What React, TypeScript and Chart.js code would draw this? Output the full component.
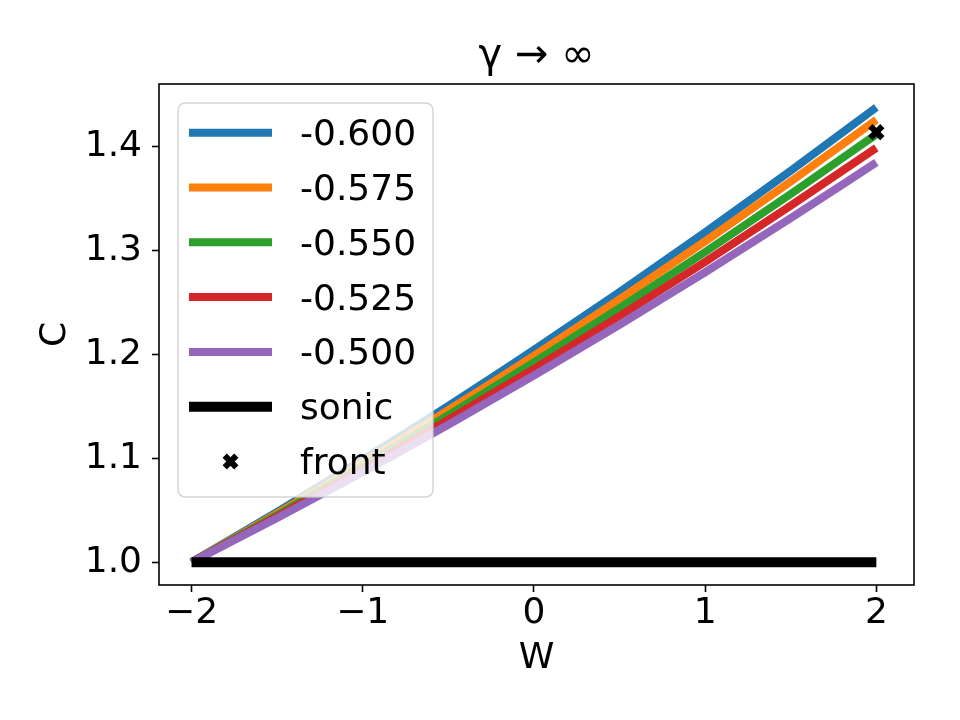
import React, { useEffect, useRef } from "react";
import { Chart, registerables } from "chart.js";

Chart.register(...registerables);

// ---- data ----
const W = [-2, -1.5, -1, -0.5, 0, 0.5, 1, 1.5, 2];
const C_0600 = [1.0, 1.0484, 1.0986, 1.1505, 1.2044, 1.2601, 1.3176, 1.3769, 1.438];
const C_0575 = [1.0, 1.047, 1.0959, 1.1464, 1.1988, 1.253, 1.3089, 1.3666, 1.426];
const C_0550 = [1.0, 1.0455, 1.0927, 1.1416, 1.1923, 1.2446, 1.2987, 1.3546, 1.412];
const C_0525 = [1.0, 1.044, 1.0898, 1.1371, 1.1862, 1.2369, 1.2893, 1.3434, 1.399];
const C_0500 = [1.0, 1.0425, 1.0866, 1.1323, 1.1797, 1.2286, 1.2792, 1.3313, 1.385];
const seriesLabels = ["-0.600", "-0.575", "-0.550", "-0.525", "-0.500"];
const seriesValues = [C_0600, C_0575, C_0550, C_0525, C_0500];
const seriesColors = ["#1f77b4", "#ff7f0e", "#2ca02c", "#d62728", "#9467bd"];

const sonicW = [-2, 2];
const sonicC = [1.0, 1.0];
const frontW = [2];
const frontC = [1.4142];

const xTicks = [-2, -1, 0, 1, 2];
const yTicks = [1.0, 1.1, 1.2, 1.3, 1.4];
const titleText = "γ → ∞";
const xLabel = "W";
const yLabel = "C";

const FONT = "DejaVu Sans";

const framePlugin = {
  id: "frameAndLegend",
  afterDatasetsDraw(chart: any) {
    const { ctx, chartArea } = chart;
    ctx.save();
    // axes frame
    ctx.strokeStyle = "#000";
    ctx.lineWidth = 1.6;
    ctx.strokeRect(chartArea.left, chartArea.top, chartArea.right - chartArea.left, chartArea.bottom - chartArea.top);

    // legend
    const bx = 178, by = 103, bw = 255, bh = 394, r = 8;
    ctx.beginPath();
    ctx.moveTo(bx + r, by);
    ctx.lineTo(bx + bw - r, by);
    ctx.quadraticCurveTo(bx + bw, by, bx + bw, by + r);
    ctx.lineTo(bx + bw, by + bh - r);
    ctx.quadraticCurveTo(bx + bw, by + bh, bx + bw - r, by + bh);
    ctx.lineTo(bx + r, by + bh);
    ctx.quadraticCurveTo(bx, by + bh, bx, by + bh - r);
    ctx.lineTo(bx, by + r);
    ctx.quadraticCurveTo(bx, by, bx + r, by);
    ctx.closePath();
    ctx.fillStyle = "rgba(255,255,255,0.8)";
    ctx.fill();
    ctx.strokeStyle = "rgba(204,204,204,0.8)";
    ctx.lineWidth = 1.5;
    ctx.stroke();

    const ds = chart.data.datasets;
    ctx.font = `36px "${FONT}"`;
    ctx.textAlign = "left";
    ctx.textBaseline = "alphabetic";
    for (let i = 0; i < ds.length; i++) {
      const cy = 132.7 + i * 54.8;
      const d = ds[i];
      if (d.showLine === false) {
        const cx = 230.5;
        const o = 5.8;
        ctx.strokeStyle = "#000";
        ctx.lineWidth = 6;
        ctx.lineCap = "butt";
        ctx.beginPath();
        ctx.moveTo(cx - o, cy - o);
        ctx.lineTo(cx + o, cy + o);
        ctx.moveTo(cx - o, cy + o);
        ctx.lineTo(cx + o, cy - o);
        ctx.stroke();
      } else {
        ctx.strokeStyle = d.borderColor;
        ctx.lineWidth = d.borderWidth;
        ctx.lineCap = "butt";
        ctx.beginPath();
        ctx.moveTo(189, cy);
        ctx.lineTo(272, cy);
        ctx.stroke();
      }
      ctx.fillStyle = "#000";
      ctx.fillText(d.label, 300, cy + 12.5);
    }
    ctx.restore();
  },
};

export default function App() {
  const ref = useRef<HTMLCanvasElement | null>(null);

  useEffect(() => {
    if (!ref.current) return;
    const datasets: any[] = seriesLabels.map((label, i) => ({
      label,
      data: W.map((w, k) => ({ x: w, y: seriesValues[i][k] })),
      borderColor: seriesColors[i],
      backgroundColor: seriesColors[i],
      borderWidth: 8,
      pointRadius: 0,
      cubicInterpolationMode: "monotone",
      fill: false,
      order: 7 - i,
    }));
    datasets.push({
      label: "sonic",
      data: sonicW.map((w, k) => ({ x: w, y: sonicC[k] })),
      borderColor: "#000",
      backgroundColor: "#000",
      borderWidth: 10,
      pointRadius: 0,
      fill: false,
      order: 2,
    });
    datasets.push({
      label: "front",
      data: frontW.map((w, k) => ({ x: w, y: frontC[k] })),
      showLine: false,
      borderColor: "#000",
      backgroundColor: "#000",
      pointStyle: "crossRot",
      pointRadius: 8.5,
      pointBorderWidth: 6,
      borderWidth: 6,
      order: 1,
    });

    const tickFont = { family: FONT, size: 36 };
    const chart = new Chart(ref.current, {
      type: "line",
      data: { datasets },
      plugins: [framePlugin],
      options: {
        animation: false,
        responsive: false,
        layout: { padding: { left: 0, right: 46, top: 0, bottom: 35 } },
        plugins: {
          legend: { display: false },
          tooltip: { enabled: false },
          title: {
            display: true,
            text: titleText,
            fullSize: false,
            color: "#000",
            font: { family: FONT, size: 40, weight: "normal" },
            padding: { top: 33, bottom: 3 },
          },
        },
        scales: {
          x: {
            type: "linear",
            min: -2.19,
            max: 2.22,
            afterBuildTicks: (s: any) => {
              s.ticks = xTicks.map((v) => ({ value: v }));
            },
            afterFit: (s: any) => {
              s.height = 100;
            },
            ticks: {
              color: "#000",
              font: tickFont,
              padding: 0,
              maxRotation: 0,
              autoSkip: false,
              callback: (v: any) => (Number(v) < 0 ? "\u2212" + Math.abs(Number(v)) : String(v)),
            },
            grid: { drawOnChartArea: false, drawTicks: true, tickLength: 7, tickColor: "#000", tickWidth: 1.6 },
            border: { display: false },
            title: { display: true, text: xLabel, color: "#000", font: tickFont, padding: { top: 0, bottom: 5 } },
          },
          y: {
            type: "linear",
            min: 0.978,
            max: 1.4605,
            afterBuildTicks: (s: any) => {
              s.ticks = yTicks.map((v) => ({ value: v }));
            },
            afterFit: (s: any) => {
              s.width = 159;
            },
            ticks: {
              color: "#000",
              font: tickFont,
              padding: 10,
              autoSkip: false,
              callback: (v: any) => Number(v).toFixed(1),
            },
            grid: { drawOnChartArea: false, drawTicks: true, tickLength: 7, tickColor: "#000", tickWidth: 1.6 },
            border: { display: false },
            title: { display: true, text: yLabel, color: "#000", font: tickFont, padding: { top: 34, bottom: 0 } },
          },
        },
      } as any,
    });
    return () => chart.destroy();
  }, []);

  return (
    <div style={{ position: "fixed", left: 0, top: 0, width: 960, height: 720, background: "#fff" }}>
      <canvas ref={ref} width={960} height={720} style={{ display: "block" }} />
    </div>
  );
}
